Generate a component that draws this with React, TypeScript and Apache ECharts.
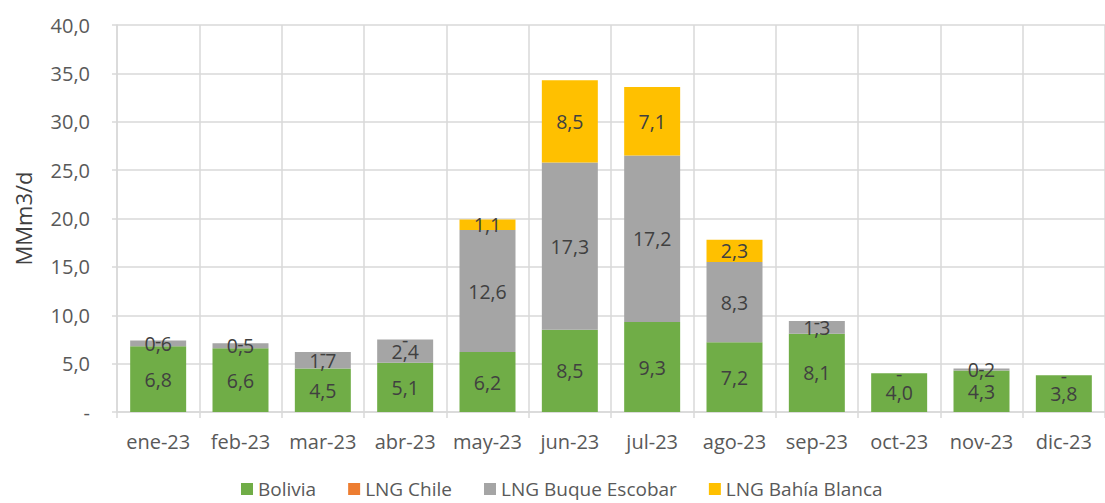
import React, { useEffect, useRef } from "react";
import * as echarts from "echarts";

const categories = ["ene-23", "feb-23", "mar-23", "abr-23", "may-23", "jun-23", "jul-23", "ago-23", "sep-23", "oct-23", "nov-23", "dic-23"];
const bolivia = [6.8, 6.6, 4.5, 5.1, 6.2, 8.5, 9.3, 7.2, 8.1, 4.0, 4.3, 3.8];
const lngChile = [0, 0, 0, 0, 0, 0, 0, 0, 0, 0, 0, 0];
const lngEscobar = [0.6, 0.5, 1.7, 2.4, 12.6, 17.3, 17.2, 8.3, 1.3, 0, 0.2, 0];
const lngBahia = [0, 0, 0, 0, 1.1, 8.5, 7.1, 2.3, 0, 0, 0, 0];
const yTicks = { min: 0, max: 40, interval: 5 };

const FONT = "'Open Sans', 'Liberation Sans', sans-serif";
const fmt = (v: number) => v.toFixed(1).replace(".", ",");

export default function App() {
  const ref = useRef<HTMLDivElement>(null);
  useEffect(() => {
    if (!ref.current) return;
    const chart = echarts.init(ref.current, null, { renderer: "svg" });
    const labelBase = {
      show: true,
      position: "inside" as const,
      color: "#404040",
      fontSize: 19.5,
      fontFamily: FONT,
    };
    chart.setOption({
      animation: false,
      textStyle: { fontFamily: FONT },
      grid: { left: 117, top: 25, width: 1000, height: 387, containLabel: false },
      legend: {
        left: 241,
        top: 479,
        padding: 0,
        itemWidth: 12,
        itemHeight: 12,
        itemGap: 32,
        icon: "rect",
        textStyle: { fontSize: 19, lineHeight: 20, color: "#595959", fontFamily: FONT },
        data: ["Bolivia", "LNG Chile", "LNG Buque Escobar", "LNG Bahía Blanca"],
      },
      xAxis: {
        type: "category",
        data: categories,
        axisLine: { show: true, lineStyle: { color: "#d9d9d9", width: 1.5 } },
        axisTick: { show: true, length: 6, lineStyle: { color: "#d9d9d9", width: 1.5 } },
        splitLine: { show: true, lineStyle: { color: "#d9d9d9", width: 1.5 } },
        axisLabel: { color: "#595959", fontSize: 20, margin: 19, interval: 0, fontFamily: FONT },
      },
      yAxis: {
        type: "value",
        min: yTicks.min,
        max: yTicks.max,
        interval: yTicks.interval,
        name: "MMm3/d",
        nameLocation: "middle",
        nameGap: 83,
        nameTextStyle: { color: "#404040", fontSize: 22, fontFamily: FONT },
        axisLine: { show: true, lineStyle: { color: "#d9d9d9", width: 1.5 } },
        axisTick: { show: true, length: 5, lineStyle: { color: "#d9d9d9", width: 1.5 } },
        splitLine: { show: true, lineStyle: { color: "#d9d9d9", width: 1.5 } },
        axisLabel: {
          color: "#595959",
          fontSize: 20,
          margin: 27,
          fontFamily: FONT,
          formatter: (v: number) => (v === 0 ? "-" : fmt(v)),
        },
      },
      series: [
        {
          name: "Bolivia",
          type: "bar",
          stack: "total",
          barWidth: "68%",
          data: bolivia,
          itemStyle: { color: "#70AD47" },
          label: { ...labelBase, formatter: (p: any) => (p.value === 0 ? "-" : fmt(p.value)) },
        },
        {
          name: "LNG Chile",
          type: "bar",
          stack: "total",
          barWidth: "68%",
          data: lngChile,
          itemStyle: { color: "#ED7D31" },
          label: { show: false },
        },
        {
          name: "LNG Buque Escobar",
          type: "bar",
          stack: "total",
          barWidth: "68%",
          data: lngEscobar,
          itemStyle: { color: "#A5A5A5" },
          label: { ...labelBase, formatter: (p: any) => (p.value === 0 ? "" : fmt(p.value)) },
        },
        {
          name: "LNG Bahía Blanca",
          type: "bar",
          stack: "total",
          barWidth: "68%",
          data: lngBahia,
          itemStyle: { color: "#FFC000" },
          label: { ...labelBase, formatter: (p: any) => (p.value === 0 ? "-" : fmt(p.value)) },
        },
      ],
    });
    return () => chart.dispose();
  }, []);
  return <div ref={ref} style={{ position: "absolute", left: 0, top: 0, width: 1105, height: 503 }} />;
}
